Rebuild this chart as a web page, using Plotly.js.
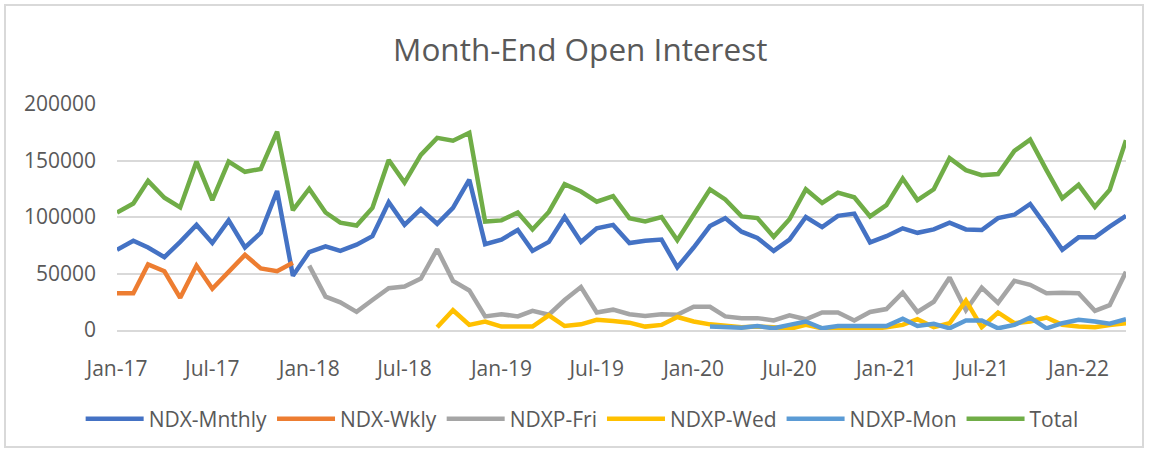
<!DOCTYPE html>
<html>
<head>
<meta charset="utf-8">
<script src="https://cdn.plot.ly/plotly-3.0.1.min.js"></script>
<style>
  html, body { margin: 0; padding: 0; background: #ffffff; }
  #wrap { position: relative; width: 1149px; height: 452px; }
  #chart { position: absolute; left: 0; top: 0; width: 1149px; height: 452px; }
  #frame { position: absolute; left: 4px; top: 4px; width: 1136px; height: 440px;
           border: 2px solid #d9d9d9; pointer-events: none; }
</style>
</head>
<body>
<div id="wrap">
  <div id="chart"></div>
  <div id="frame"></div>
</div>
<script>
// Months: Jan-2017 .. Apr-2022 (month-end open interest, plotted per month)
const firstYear = 2017, firstMonth = 1, monthCount = 64;
const months = [];
for (let k = 0; k < monthCount; k++) {
  const y = firstYear + Math.floor((firstMonth - 1 + k) / 12);
  const m = ((firstMonth - 1 + k) % 12) + 1;
  months.push(y + '-' + String(m).padStart(2, '0') + '-01');
}

const seriesNames = ['NDX-Mnthly', 'NDX-Wkly', 'NDXP-Fri', 'NDXP-Wed', 'NDXP-Mon', 'Total'];
const seriesColors = ['#4472C4', '#ED7D31', '#A5A5A5', '#FFC000', '#5B9BD5', '#70AD47'];

const ndxMonthly = [
  71000, 79000, 73000, 64500, 78000, 93000, 77000, 97000, 73000, 86000, 123000, 48000,
  69000, 74000, 70000, 75500, 83000, 113000, 93000, 107000, 94000, 108000, 133000, 76000,
  80000, 88500, 70000, 78000, 100000, 78000, 90000, 93000, 77000, 79000, 80000, 55500,
  73000, 92000, 99000, 87000, 81500, 70000, 80000, 100000, 91000, 101000, 103000, 77500,
  83000, 90000, 86000, 89000, 95000, 89000, 88500, 99000, 102000, 111500, 91500, 71000,
  82000, 82000, 91500, 101000
];

const ndxWeekly = [
  32500, 32500, 58000, 52000, 28500, 57000, 36500, 51500, 66500, 54500, 52000, 59500,
  null, null, null, null, null, null, null, null, null, null, null, null,
  null, null, null, null, null, null, null, null, null, null, null, null,
  null, null, null, null, null, null, null, null, null, null, null, null,
  null, null, null, null, null, null, null, null, null, null, null, null,
  null, null, null, null
];

const ndxpFri = [
  null, null, null, null, null, null, null, null, null, null, null, null,
  57000, 29500, 24500, 16000, 26500, 37000, 38500, 45500, 71500, 43500, 35000, 12000,
  14000, 12000, 17000, 13500, 26500, 38000, 15500, 18000, 14000, 12500, 14000, 13500,
  20500, 20500, 12000, 10500, 10500, 8500, 13000, 9500, 15500, 15500, 8500, 16000,
  18500, 33000, 16000, 25000, 46500, 17500, 37500, 24000, 43500, 40000, 32500, 33000,
  32500, 17000, 22000, 51500
];

const ndxpWed = [
  null, null, null, null, null, null, null, null, null, null, null, null,
  null, null, null, null, null, null, null, null, 2500, 17500, 4500, 7500,
  3000, 3000, 3000, 13000, 3500, 5000, 9000, 8000, 6500, 3000, 4500, 11500,
  7500, 5000, 3500, 2500, 3000, 2500, 1000, 4500, 1500, 1000, 500, 500,
  2500, 4500, 9500, 2500, 6000, 26000, 2500, 15500, 6000, 7500, 11000, 4500,
  3000, 2500, 4500, 6000
];

const ndxpMon = [
  null, null, null, null, null, null, null, null, null, null, null, null,
  null, null, null, null, null, null, null, null, null, null, null, null,
  null, null, null, null, null, null, null, null, null, null, null, null,
  null, 3000, 2500, 2000, 3500, 1500, 4500, 7500, 1500, 3500, 3500, 3500,
  3500, 10000, 3500, 5500, 1500, 8500, 8500, 1500, 4500, 11000, 1500, 6000,
  9000, 7500, 5500, 9500
];

const totalOI = [
  104000, 112000, 132000, 117000, 108500, 149000, 115000, 149000, 140000, 142500, 175500, 106000,
  125000, 104000, 95000, 92500, 108000, 150500, 130500, 155000, 170000, 167500, 174500, 96000,
  97000, 104000, 89000, 104500, 129000, 122500, 113500, 118500, 99000, 96000, 100000, 79500,
  102000, 124500, 115500, 100500, 99000, 82500, 98000, 124500, 112500, 121500, 117500, 100500,
  110500, 134000, 115000, 124500, 152000, 141500, 137000, 138000, 158500, 168500, 141500, 116500,
  128500, 109000, 124000, 168000
];

const yTicks = [0, 50000, 100000, 150000, 200000];

const seriesValues = [ndxMonthly, ndxWeekly, ndxpFri, ndxpWed, ndxpMon, totalOI];

const traces = seriesValues.map((vals, i) => ({
  type: 'scatter',
  mode: 'lines',
  name: seriesNames[i],
  x: months,
  y: vals,
  connectgaps: false,
  line: { color: seriesColors[i], width: 4.5, shape: 'linear' },
  hoverinfo: 'x+y+name'
}));

const fontFam = '"Open Sans", "Liberation Sans", Arial, sans-serif';
const grey = '#595959';

const layout = {
  width: 1149,
  height: 452,
  margin: { l: 117, r: 23, t: 104, b: 122, pad: 0 },
  paper_bgcolor: '#ffffff',
  plot_bgcolor: '#ffffff',
  font: { family: fontFam, color: grey },
  title: {
    text: 'Month-End Open Interest',
    font: { family: fontFam, size: 31.5, color: grey },
    xref: 'container', x: 0.505, xanchor: 'center',
    yref: 'container', y: 0.89, yanchor: 'middle'
  },
  xaxis: {
    type: 'date',
    range: [months[0], months[months.length - 1]],
    tick0: months[0],
    dtick: 'M6',
    tickformat: '%b-%y',
    showgrid: false,
    zeroline: false,
    showline: true,
    linecolor: '#d9d9d9',
    linewidth: 1.5,
    ticks: '',
    ticklabelstandoff: 19,
    tickfont: { family: fontFam, size: 21, color: grey },
    fixedrange: true
  },
  yaxis: {
    range: [0, 200000],
    tickvals: yTicks,
    ticktext: yTicks.map(v => String(v)),
    showgrid: true,
    gridcolor: '#d9d9d9',
    gridwidth: 1.5,
    zeroline: false,
    showline: false,
    ticks: '',
    ticklabelstandoff: 20,
    tickfont: { family: fontFam, size: 21, color: grey },
    fixedrange: true
  },
  showlegend: true,
  legend: {
    orientation: 'h',
    x: 0.461, xanchor: 'center',
    y: -0.394, yanchor: 'middle',
    itemwidth: 58,
    font: { family: fontFam, size: 21, color: grey },
    bgcolor: 'rgba(0,0,0,0)',
    traceorder: 'normal'
  },
  hovermode: 'closest'
};

Plotly.newPlot('chart', traces, layout, { displayModeBar: false, staticPlot: false });
</script>
</body>
</html>
